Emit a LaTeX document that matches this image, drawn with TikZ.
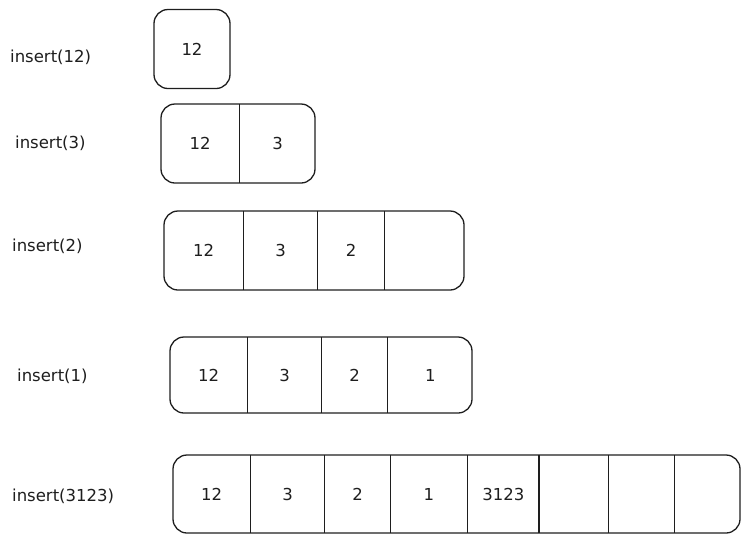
\documentclass[tikz,border=0pt]{standalone}
\usepackage{fontspec}
\setmainfont{DejaVu Sans}
\usetikzlibrary{positioning}
\definecolor{ink}{HTML}{1E1E1E}
\begin{document}
\begin{tikzpicture}[x=1pt,y=-1pt,
  every node/.style={font=\fontsize{16.5}{18}\selectfont, text=ink},
  box/.style={draw=ink, line width=1.3pt, rounded corners=14pt, inner sep=0pt},
  cell/.style={inner sep=0pt, anchor=west},
  div/.style={draw=ink, line width=1.1pt},
  lbl/.style={anchor=west, inner sep=0pt}]
\useasboundingbox (0,0) rectangle (750,547);

% row 1
\node[lbl] (l1) at (10,57) {insert(12)};
\node[box, minimum width=76, minimum height=79] (r1) at (192,49) {12};

% row 2
\node[lbl] (l2) at (15,143) {insert(3)};
\node[box, minimum width=154, minimum height=79] (r2) at (238,143.5) {};
\node[cell, minimum width=78, minimum height=79] (r2a) at (161,143.5) {12};
\node[cell, minimum width=76, minimum height=79, right=0pt of r2a] (r2b) {3};
\draw[div] (r2a.north east) -- (r2a.south east);

% row 3
\node[lbl] (l3) at (12,246) {insert(2)};
\node[box, minimum width=300, minimum height=79] (r3) at (314,250.5) {};
\node[cell, minimum width=79, minimum height=79] (r3a) at (164,250.5) {12};
\node[cell, minimum width=74, minimum height=79, right=0pt of r3a] (r3b) {3};
\node[cell, minimum width=66, minimum height=79, right=0pt of r3b] (r3c) {2};
\node[cell, minimum width=81, minimum height=79, right=0pt of r3c] (r3d) {};
\draw[div] (r3a.north east) -- (r3a.south east);
\draw[div] (r3b.north east) -- (r3b.south east);
\draw[div] (r3c.north east) -- (r3c.south east);

% row 4
\node[lbl] (l4) at (17,376) {insert(1)};
\node[box, minimum width=302, minimum height=76] (r4) at (321,375) {};
\node[cell, minimum width=77, minimum height=76] (r4a) at (170,375) {12};
\node[cell, minimum width=74, minimum height=76, right=0pt of r4a] (r4b) {3};
\node[cell, minimum width=65, minimum height=76, right=0pt of r4b] (r4c) {2};
\node[cell, minimum width=86, minimum height=76, right=0pt of r4c] (r4d) {1};
\draw[div] (r4a.north east) -- (r4a.south east);
\draw[div] (r4b.north east) -- (r4b.south east);
\draw[div] (r4c.north east) -- (r4c.south east);

% row 5
\node[lbl] (l5) at (12,496) {insert(3123)};
\node[box, minimum width=567, minimum height=78] (r5) at (456.5,494) {};
\node[cell, minimum width=77, minimum height=78] (r5a) at (173,494) {12};
\node[cell, minimum width=74, minimum height=78, right=0pt of r5a] (r5b) {3};
\node[cell, minimum width=65, minimum height=78, right=0pt of r5b] (r5c) {2};
\node[cell, minimum width=77, minimum height=78, right=0pt of r5c] (r5d) {1};
\node[cell, minimum width=71, minimum height=78, right=0pt of r5d] (r5e) {3123};
\node[cell, minimum width=69, minimum height=78, right=0pt of r5e] (r5f) {};
\node[cell, minimum width=66, minimum height=78, right=0pt of r5f] (r5g) {};
\node[cell, minimum width=68, minimum height=78, right=0pt of r5g] (r5h) {};
\draw[div] (r5a.north east) -- (r5a.south east);
\draw[div] (r5b.north east) -- (r5b.south east);
\draw[div] (r5c.north east) -- (r5c.south east);
\draw[div] (r5d.north east) -- (r5d.south east);
\draw[div] (r5e.north east) -- (r5e.south east);
\draw[div] (r5f.north east) -- (r5f.south east);
\draw[div] (r5g.north east) -- (r5g.south east);
\end{tikzpicture}
\end{document}
